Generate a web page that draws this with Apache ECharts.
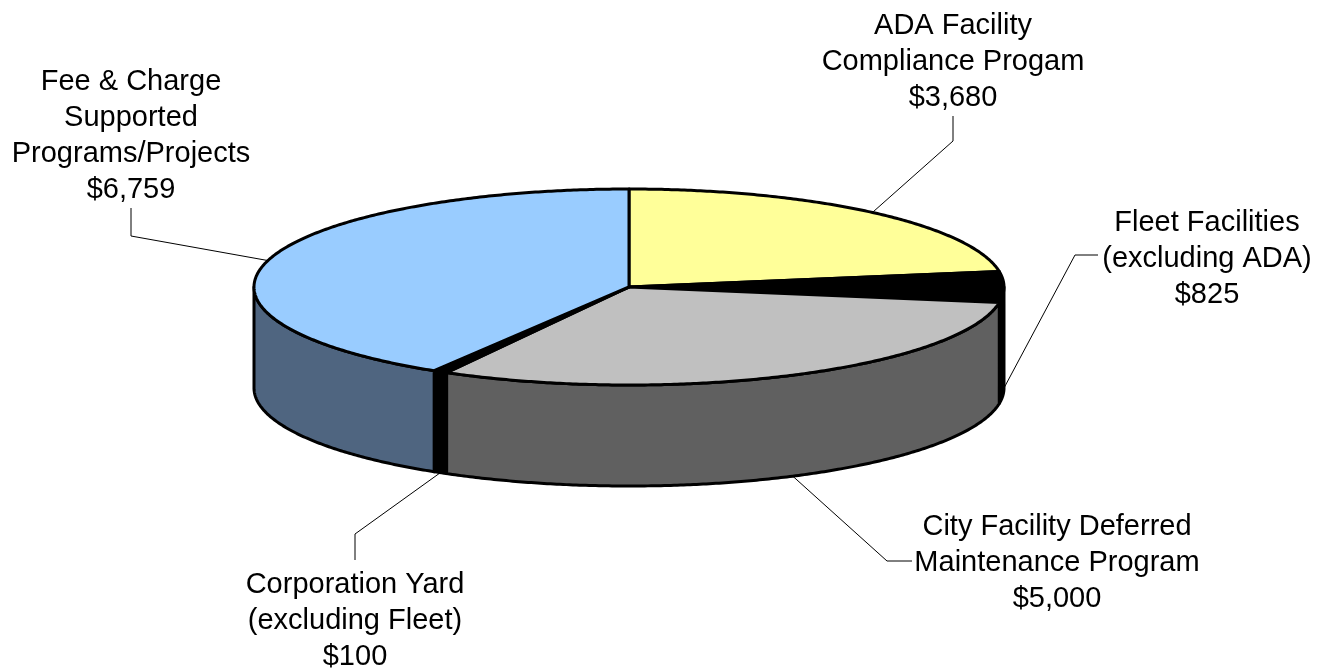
<!DOCTYPE html>
<html>
<head>
<meta charset="utf-8">
<style>
  html, body { margin: 0; padding: 0; background: #fff; }
  #chartDom { width: 1328px; height: 668px; }
</style>
<script src="https://cdn.jsdelivr.net/npm/echarts@6/dist/echarts.min.js"></script>
</head>
<body>
<div id="chartDom"></div>
<script>
// values, clockwise from 12 o'clock
const categories = [
  'ADA Facility\nCompliance Progam',
  'Fleet Facilities\n(excluding ADA)',
  'City Facility Deferred\nMaintenance Program',
  'Corporation Yard\n(excluding Fleet)',
  'Fee & Charge\nSupported\nPrograms/Projects'
]
const values = [3680, 825, 5000, 100, 6759]
const topColors = ['#FFFF99', '#000000', '#C0C0C0', '#000000', '#99CCFF']
const sideColors = ['#808050', '#000000', '#606060', '#000000', '#4F6580']

// pie layout
const cx = 629
const cy = 287
const rx = 375
const ry = 98
const depth = 101

// leader elbows + label centres, same order as categories
const leaders = [
  { elbow: [[953, 141], [953, 116]], text: [953, 62] },
  { elbow: [[1075, 255], [1098, 255]], text: [1207, 259] },
  { elbow: [[887, 561], [912, 561]], text: [1057, 563] },
  { elbow: [[355, 534], [355, 560]], text: [355, 621] },
  { elbow: [[131, 236], [131, 208]], text: [131, 136] }
]

const total = values.reduce((a, b) => a + b, 0)
const starts = []
values.reduce((sum, v, i) => {
  starts[i] = sum / total * 360
  return sum + v
}, 0)

function pt (deg, dy) {
  const r = deg * Math.PI / 180
  return [cx + rx * Math.sin(r), cy - ry * Math.cos(r) + (dy || 0)]
}

function arc (a0, a1, dy) {
  const pts = []
  const n = Math.max(2, Math.ceil(Math.abs(a1 - a0) * 2))
  for (let i = 0; i <= n; i++) {
    pts.push(pt(a0 + (a1 - a0) * i / n, dy))
  }
  return pts
}

function sweep (i) {
  return values[i] / total * 360
}

function renderSide (params) {
  const i = params.dataIndex
  // only the front half of the wall can be seen
  const a0 = Math.max(starts[i], 90)
  const a1 = Math.min(starts[i] + sweep(i), 270)
  if (a1 <= a0) return { type: 'group', children: [] }
  return {
    type: 'polygon',
    shape: { points: arc(a0, a1, 0).concat(arc(a1, a0, depth)) },
    style: { fill: sideColors[i], stroke: '#000', lineWidth: 3, lineJoin: 'round' }
  }
}

function renderTop (params) {
  const i = params.dataIndex
  return {
    type: 'polygon',
    shape: { points: [[cx, cy]].concat(arc(starts[i], starts[i] + sweep(i), 0)) },
    style: { fill: topColors[i], stroke: '#000', lineWidth: 3, lineJoin: 'round' }
  }
}

function renderLabel (params) {
  const i = params.dataIndex
  const mid = starts[i] + sweep(i) / 2
  const front = mid >= 90 && mid <= 270
  const l = leaders[i]
  const money = '$' + values[i].toLocaleString('en-US')
  return {
    type: 'group',
    children: [
      {
        type: 'polyline',
        shape: { points: [pt(mid, front ? depth : 0)].concat(l.elbow) },
        style: { fill: null, stroke: '#000', lineWidth: 1 }
      },
      {
        type: 'text',
        style: {
          x: l.text[0],
          y: l.text[1],
          text: categories[i] + '\n' + money,
          fill: '#000',
          font: '29px "Liberation Sans", Arial, sans-serif',
          lineHeight: 36,
          align: 'center',
          verticalAlign: 'middle'
        }
      }
    ]
  }
}

const canvasChart = echarts.init(document.getElementById('chartDom'))
canvasChart.setOption({
  animation: false,
  backgroundColor: '#fff',
  series: [
    { type: 'custom', coordinateSystem: 'none', renderItem: renderLabel, data: values, z: 1 },
    { type: 'custom', coordinateSystem: 'none', renderItem: renderSide, data: values, z: 2 },
    { type: 'custom', coordinateSystem: 'none', renderItem: renderTop, data: values, z: 3 }
  ]
})
</script>
</body>
</html>
